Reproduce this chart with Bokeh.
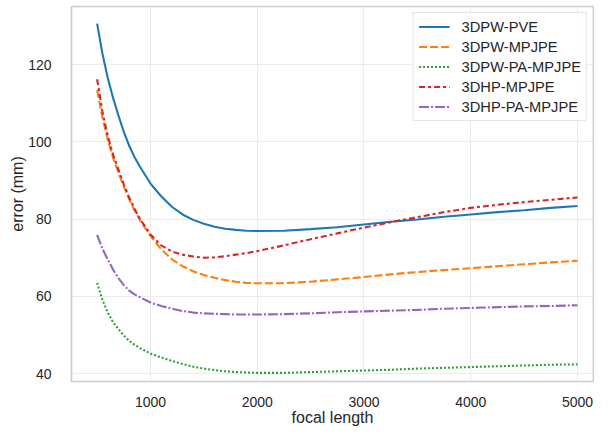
from bokeh.plotting import figure
from bokeh.models import Range1d, Legend, LegendItem, FixedTicker
from bokeh.embed import file_html
from bokeh.resources import INLINE

# ---- data ----
focal_length = [500, 550, 600, 650, 700, 750, 800, 850, 900, 1000, 1100, 1200,
                1300, 1400, 1500, 1600, 1700, 1800, 1900, 2000, 2250, 2500,
                2750, 3000, 3250, 3500, 3750, 4000, 4250, 4500, 4750, 5000]

pw_pve = [130.6, 122.8, 116.5, 111.3, 106.8, 102.6, 99.0, 96.1, 93.6, 89.2,
          85.9, 83.2, 81.2, 79.8, 78.8, 78.0, 77.5, 77.2, 77.0, 76.9, 77.0,
          77.4, 77.9, 78.6, 79.3, 79.9, 80.6, 81.2, 81.8, 82.3, 82.9, 83.4]

pw_mpjpe = [113.4, 106.3, 100.5, 95.8, 92.0, 88.4, 85.2, 82.3, 79.8, 75.6,
            72.2, 69.6, 67.8, 66.5, 65.5, 64.8, 64.2, 63.8, 63.5, 63.4, 63.4,
            63.8, 64.4, 65.0, 65.7, 66.3, 66.8, 67.3, 67.8, 68.3, 68.8, 69.2]

pw_pa_mpjpe = [63.5, 59.1, 55.8, 53.3, 51.5, 49.9, 48.5, 47.5, 46.6, 45.2,
               44.2, 43.3, 42.5, 41.8, 41.3, 40.9, 40.6, 40.4, 40.3, 40.2, 40.2,
               40.4, 40.6, 40.8, 41.0, 41.3, 41.5, 41.7, 41.9, 42.1, 42.3, 42.4]

hp_mpjpe = [116.2, 107.8, 101.5, 96.6, 92.8, 89.0, 85.6, 82.7, 80.1, 76.0,
            73.2, 71.6, 70.8, 70.3, 70.0, 70.1, 70.4, 70.8, 71.2, 71.7, 73.2,
            74.8, 76.3, 77.8, 79.2, 80.5, 81.8, 82.9, 83.7, 84.4, 85.0, 85.6]

hp_pa_mpjpe = [75.9, 72.3, 69.5, 66.9, 64.7, 62.9, 61.5, 60.5, 59.8, 58.4,
               57.5, 56.8, 56.2, 55.8, 55.6, 55.5, 55.4, 55.3, 55.3, 55.3, 55.4,
               55.6, 55.9, 56.1, 56.3, 56.5, 56.8, 57.0, 57.2, 57.4, 57.5, 57.7]

series_labels = ["3DPW-PVE", "3DPW-MPJPE", "3DPW-PA-MPJPE", "3DHP-MPJPE", "3DHP-PA-MPJPE"]
x_ticks = [1000, 2000, 3000, 4000, 5000]
y_ticks = [40, 60, 80, 100, 120]

# ---- styling ----
colors = ["#1f77b4", "#ff7f0e", "#2ca02c", "#d62728", "#9467bd"]
dashes = ["solid", "8 3", "2 2", "6 3 3 3", "10 2 2 2"]
FONT = "Liberation Sans"
TXT = "#262626"

p = figure(width=594, height=428, output_backend="svg", toolbar_location=None,
           x_range=Range1d(260, 5150), y_range=Range1d(37.96, 135.03),
           min_border_left=71, min_border_right=1, min_border_top=6,
           min_border_bottom=41,
           background_fill_color="white", border_fill_color="white")

p.outline_line_color = "#cccccc"
p.outline_line_width = 1.7

p.xaxis.ticker = FixedTicker(ticks=x_ticks)
p.yaxis.ticker = FixedTicker(ticks=y_ticks)
for ax in (p.xaxis[0], p.yaxis[0]):
    ax.axis_line_color = None
    ax.major_tick_line_color = None
    ax.minor_tick_line_color = None
    ax.major_label_text_font = FONT
    ax.major_label_text_font_size = "14px"
    ax.major_label_text_color = TXT
    ax.axis_label_text_font = FONT
    ax.axis_label_text_font_size = "16px"
    ax.axis_label_text_font_style = "normal"
    ax.axis_label_text_color = TXT

p.xaxis.axis_label = "focal length"
p.yaxis.axis_label = "error (mm)"
p.xaxis.major_label_standoff = 9
p.xaxis.axis_label_standoff = -1
p.yaxis.major_label_standoff = 14
p.yaxis.axis_label_standoff = -1

p.grid.grid_line_color = "#ebebeb"
p.grid.grid_line_width = 1

all_series = [pw_pve, pw_mpjpe, pw_pa_mpjpe, hp_mpjpe, hp_pa_mpjpe]
items = []
for lab, ys, c, d in zip(series_labels, all_series, colors, dashes):
    r = p.line(focal_length, ys, line_color=c, line_width=2.1, line_dash=d)
    items.append(LegendItem(label=lab, renderers=[r]))

legend = Legend(items=items, location="top_right",
                label_text_font=FONT, label_text_font_size="14.7px",
                label_text_color=TXT,
                glyph_width=31, glyph_height=17, label_height=17,
                spacing=3, padding=5, label_standoff=12, margin=6,
                border_line_color="#cccccc", border_line_width=1,
                background_fill_color="white", background_fill_alpha=0.8)
p.add_layout(legend)

open("out.html", "w").write(file_html(p, INLINE))
